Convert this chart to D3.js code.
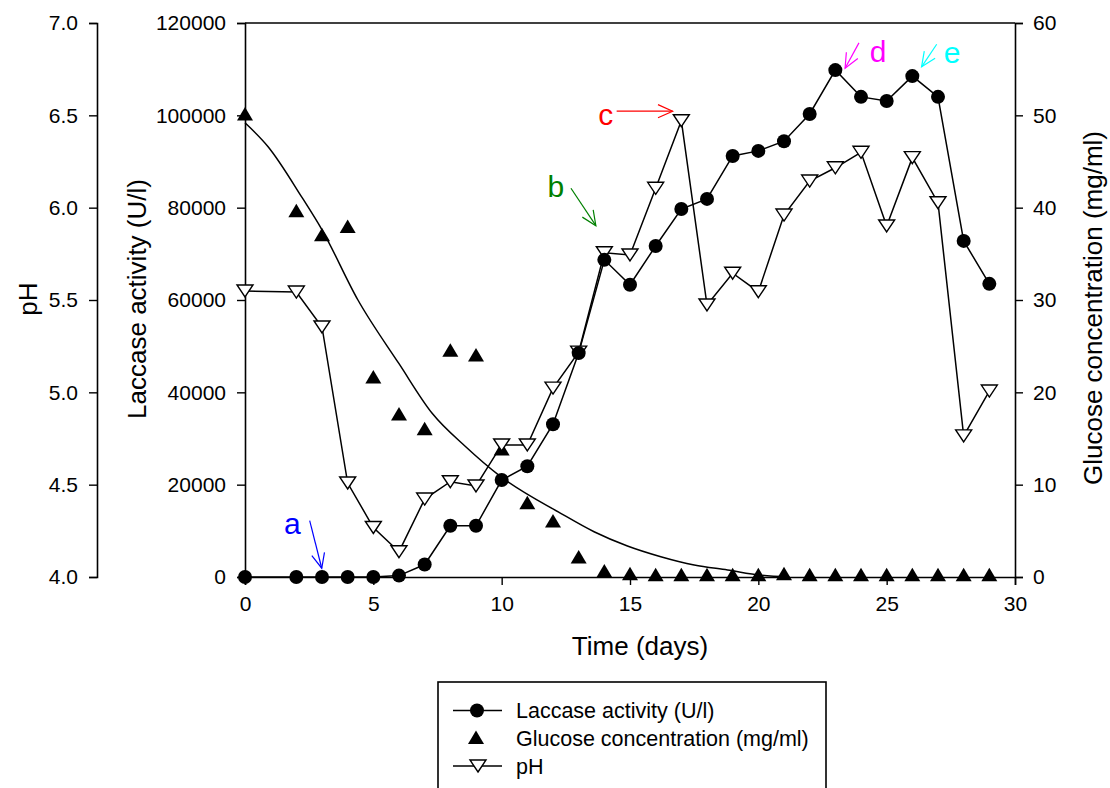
<!DOCTYPE html>
<html><head><meta charset="utf-8">
<script src="https://cdn.jsdelivr.net/npm/d3@7"></script>
<style>
html,body{margin:0;padding:0;background:#fff;}
svg{display:block;}
text{font-family:Arial,"Liberation Sans",sans-serif;fill:#000;}
</style></head>
<body>
<svg id="chart" width="1110" height="788"></svg>
<script>
// ---------- data ----------
const days = [0,2,3,4,5,6,7,8,9,10,11,12,13,14,15,16,17,18,19,20,21,22,23,24,25,26,27,28,29];
const laccase = [0,0,0,0,0,300,2700,11100,11100,21000,24000,33100,48500,68700,63300,71700,79700,81900,91200,92300,94400,100300,109800,104000,103100,108500,104000,72800,63500];
const glucose = [50.1,39.6,37.0,37.9,21.6,17.6,16.0,24.5,24.0,13.8,8.0,6.0,2.1,0.6,0.3,0.2,0.2,0.2,0.2,0.2,0.3,0.2,0.2,0.2,0.2,0.2,0.2,0.2,0.2];
const pH = [5.549,5.543,5.354,4.509,4.268,4.137,4.422,4.516,4.493,4.715,4.715,5.023,5.218,5.756,5.744,6.105,6.471,5.473,5.645,5.545,5.960,6.144,6.216,6.300,5.901,6.271,6.027,4.764,5.007];
// fitted glucose curve
const fitDays = [0,0.9,2.2,3.0,4.4,6.0,7.3,8.6,9.9,12.3,13.6,14.9,16.2,17.5,18.8,20.1,21.2];
const fitGlucose = [49.2,46.6,41.2,37.6,30.0,23.1,17.7,14.1,11.0,6.9,4.9,3.36,2.2,1.3,0.76,0.2,0];
const xTicks = [0,5,10,15,20,25,30];
const laccaseTicks = [0,20000,40000,60000,80000,100000,120000];
const glucoseTicks = [0,10,20,30,40,50,60];
const pHTicks = [4.0,4.5,5.0,5.5,6.0,6.5,7.0];
const legendLabels = ["Laccase activity (U/l)","Glucose concentration (mg/ml)","pH"];
// annotations: label, colour, text anchor (day, U/l), arrow start & tip (day, U/l)
const annLabels = ["a","b","c","d","e"];
const annColors = ["#0000ff","#008000","#ff0000","#ff00ff","#00ffff"];
const annText = [[1.84,9300],[12.11,82400],[14.06,97900],[24.67,111600],[27.55,111300]];
const annFrom = [[2.52,12200],[12.70,84200],[14.48,100900],[23.92,115700],[26.95,115400]];
const annTo = [[2.99,1900],[13.67,76100],[16.66,100900],[23.38,110200],[26.36,110500]];

// ---------- scales ----------
const svg = d3.select("#chart");
const x = d3.scaleLinear().domain([0,30]).range([245,1015]);
const yL = d3.scaleLinear().domain([0,120000]).range([577,23]);
const yG = d3.scaleLinear().domain([0,60]).range([577,23]);
const yP = d3.scaleLinear().domain([4,7]).range([577,23]);

const tickFont = "21px";
function styleAxis(g){
  g.select(".domain").attr("stroke","#000").attr("stroke-width",1.6);
  g.selectAll(".tick line").attr("stroke","#000").attr("stroke-width",1.4);
  g.selectAll(".tick text").style("font-size",tickFont).style("font-family","Arial, 'Liberation Sans', sans-serif").attr("fill","#000");
}
// pH axis
svg.append("g").attr("transform","translate(97,0)")
  .call(d3.axisLeft(yP).tickValues(pHTicks).tickFormat(d3.format(".1f")).tickSizeOuter(0).tickSize(8).tickPadding(11))
  .call(styleAxis);
// laccase axis
svg.append("g").attr("transform","translate(245,0)")
  .call(d3.axisLeft(yL).tickValues(laccaseTicks).tickFormat(d3.format("d")).tickSizeOuter(0).tickSize(8).tickPadding(11))
  .call(styleAxis);
// glucose axis
svg.append("g").attr("transform","translate(1015,0)")
  .call(d3.axisRight(yG).tickValues(glucoseTicks).tickFormat(d3.format("d")).tickSizeOuter(0).tickSize(8).tickPadding(10))
  .call(styleAxis);
// x axis
svg.append("g").attr("transform","translate(0,577)")
  .call(d3.axisBottom(x).tickValues(xTicks).tickSizeOuter(0).tickSize(8).tickPadding(11))
  .call(styleAxis);
// top frame line
svg.append("line").attr("x1",x(0)).attr("x2",x(30)).attr("y1",yL(120000)).attr("y2",yL(120000))
  .attr("stroke","#000").attr("stroke-width",1.6);

// axis titles
svg.append("text").attr("transform","translate(37,299) rotate(-90)").attr("text-anchor","middle")
  .style("font-size","26px").text("pH");
svg.append("text").attr("transform","translate(146,299) rotate(-90)").attr("text-anchor","middle")
  .style("font-size","26px").text("Laccase activity (U/l)");
svg.append("text").attr("transform","translate(1102,308) rotate(-90)").attr("text-anchor","middle")
  .style("font-size","26px").text("Glucose concentration (mg/ml)");
svg.append("text").attr("x",640).attr("y",655).attr("text-anchor","middle")
  .style("font-size","26px").text("Time (days)");

// ---------- series ----------
const lac = days.map((d,i)=>({x:d,y:laccase[i]}));
const glu = days.map((d,i)=>({x:d,y:glucose[i]}));
const ph = days.map((d,i)=>({x:d,y:pH[i]}));
const fit = fitDays.map((d,i)=>({x:d,y:fitGlucose[i]}));

// fitted curve
svg.append("path").datum(fit)
  .attr("d",d3.line().x(d=>x(d.x)).y(d=>yG(d.y)).curve(d3.curveMonotoneX))
  .attr("fill","none").attr("stroke","#000").attr("stroke-width",1.5);

// pH line
svg.append("path").datum(ph)
  .attr("d",d3.line().x(d=>x(d.x)).y(d=>yP(d.y)))
  .attr("fill","none").attr("stroke","#000").attr("stroke-width",1.5);
// laccase line
svg.append("path").datum(lac)
  .attr("d",d3.line().x(d=>x(d.x)).y(d=>yL(d.y)))
  .attr("fill","none").attr("stroke","#000").attr("stroke-width",1.5);

const triUp = "M0,-7.5L8,6L-8,6Z";
const triDown = "M0,6L8,-6L-8,-6Z";

// glucose markers
svg.append("g").selectAll("path").data(glu).join("path")
  .attr("transform",d=>`translate(${x(d.x)},${yG(d.y)})`)
  .attr("d",triUp).attr("fill","#000");
// pH markers
svg.append("g").selectAll("path").data(ph).join("path")
  .attr("transform",d=>`translate(${x(d.x)},${yP(d.y)})`)
  .attr("d",triDown).attr("fill","#fff").attr("stroke","#000").attr("stroke-width",1.4);
// laccase markers
svg.append("g").selectAll("circle").data(lac).join("circle")
  .attr("cx",d=>x(d.x)).attr("cy",d=>yL(d.y)).attr("r",7).attr("fill","#000");

// ---------- annotations ----------
annLabels.forEach((lab,i)=>{
  const c = annColors[i];
  const x1 = x(annFrom[i][0]), y1 = yL(annFrom[i][1]);
  const x2 = x(annTo[i][0]), y2 = yL(annTo[i][1]);
  svg.append("line").attr("x1",x1).attr("y1",y1).attr("x2",x2).attr("y2",y2)
    .attr("stroke",c).attr("stroke-width",1.2);
  const ang = Math.atan2(y2-y1,x2-x1), L = 16, h = 0.42;
  const p1 = [x2-L*Math.cos(ang-h), y2-L*Math.sin(ang-h)];
  const p2 = [x2-L*Math.cos(ang+h), y2-L*Math.sin(ang+h)];
  svg.append("path").attr("d",`M${p1[0]},${p1[1]}L${x2},${y2}L${p2[0]},${p2[1]}`)
    .attr("fill","none").attr("stroke",c).attr("stroke-width",1.2);
  svg.append("text").attr("x",x(annText[i][0])).attr("y",yL(annText[i][1]))
    .attr("text-anchor","middle").style("font-size","30px").style("fill",c).text(lab);
});

// ---------- legend ----------
const lg = svg.append("g");
lg.append("rect").attr("x",438).attr("y",682).attr("width",388).attr("height",130)
  .attr("fill","#fff").attr("stroke","#000").attr("stroke-width",1.6);
const rowY = [710.5,738,766];
legendLabels.forEach((lab,i)=>{
  const yy = rowY[i];
  if(i!==1) lg.append("line").attr("x1",453).attr("x2",502).attr("y1",yy).attr("y2",yy)
    .attr("stroke","#000").attr("stroke-width",1.5);
  if(i===0) lg.append("circle").attr("cx",477).attr("cy",yy).attr("r",7).attr("fill","#000");
  if(i===1) lg.append("path").attr("transform",`translate(476,${yy})`).attr("d",triUp).attr("fill","#000");
  if(i===2) lg.append("path").attr("transform",`translate(478,${yy})`).attr("d",triDown)
    .attr("fill","#fff").attr("stroke","#000").attr("stroke-width",1.4);
  lg.append("text").attr("x",516).attr("y",yy).attr("dy","0.35em").style("font-size","21.5px").text(lab);
});
</script>
</body></html>
